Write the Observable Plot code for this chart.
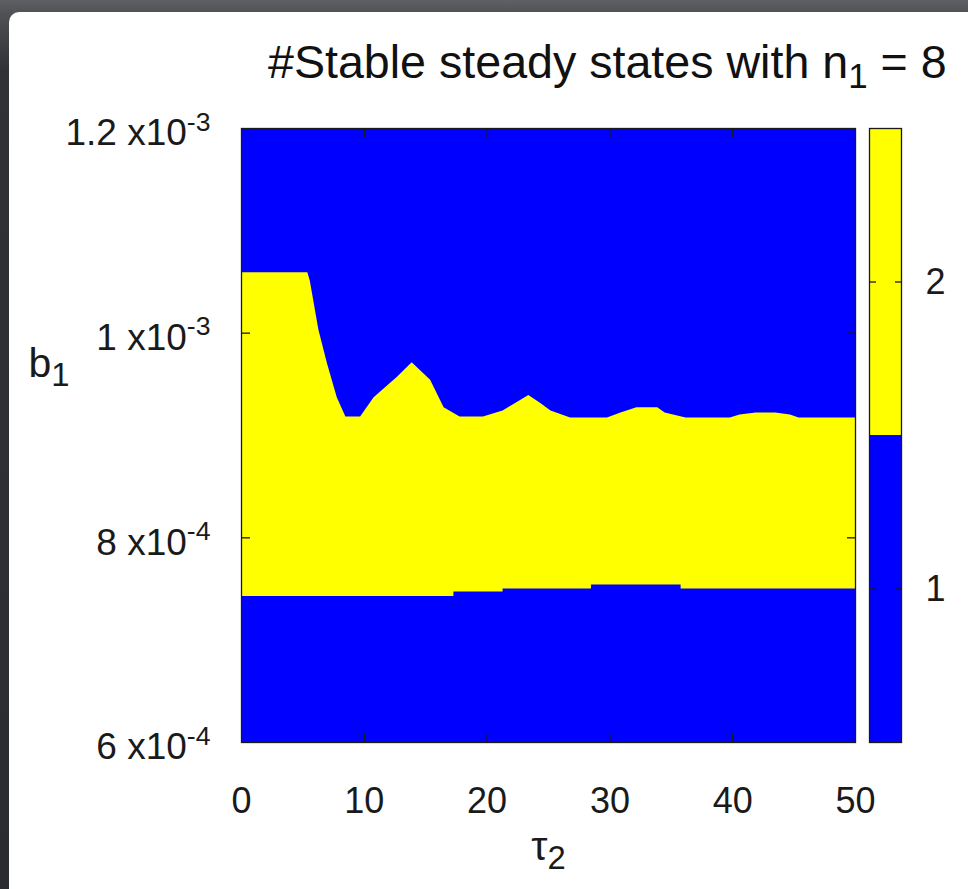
<!DOCTYPE html>
<html>
<head>
<meta charset="utf-8">
<script src="https://cdn.jsdelivr.net/npm/d3@7"></script>
<script src="https://cdn.jsdelivr.net/npm/@observablehq/plot@0.6"></script>
<style>
html,body{margin:0;padding:0;}
body{width:968px;height:889px;overflow:hidden;position:relative;
  background:linear-gradient(180deg,#5f6063 0px,#505154 14px,#303237 70px,#2a2c31 889px);
  font-family:"Liberation Sans",Arial,Helvetica,sans-serif;color:#111;}
#panel{position:absolute;left:9px;top:12px;width:990px;height:900px;background:#fff;border-radius:10px;}
#title{position:absolute;left:268px;top:39px;font-size:46.6px;line-height:46px;white-space:nowrap;color:#111;}
#title sub{font-size:0.75em;vertical-align:-0.3em;line-height:0;}
#main,#cbar{position:absolute;top:0;}
#main{left:0;} #cbar{left:860px;}
svg{overflow:visible;}
</style>
</head>
<body>
<div id="panel"></div>
<div id="title">#Stable steady states with n<sub>1</sub> = 8</div>
<div id="main"></div>
<div id="cbar"></div>
<script>
// ---- data ----
const xTicks = [0, 10, 20, 30, 40, 50];
const xInnerTicks = [10, 20, 30, 40];
const yTicks = [6e-4, 8e-4, 1e-3, 1.2e-3];
const yTickLabels = ["6 x10^-4", "8 x10^-4", "1 x10^-3", "1.2 x10^-3"];
const yInnerTicks = [8e-4, 1e-3];

// upper edge of the 2-state (yellow) region
const upperTau = [0, 5.4, 5.6, 6.3, 7.0, 7.8, 8.5, 9.7, 10.8, 12.7, 13.9, 15.4, 16.5, 17.8, 19.7, 21.3, 23.4, 24.4, 25.2, 26.8, 29.8, 30.9, 32.2, 33.9, 34.5, 36.2, 39.8, 40.6, 41.9, 43.5, 44.7, 45.4, 50];
const upperB = [1.059e-3, 1.059e-3, 1.051e-3, 1.003e-3, 0.970e-3, 0.937e-3, 0.918e-3, 0.918e-3, 0.937e-3, 0.957e-3, 0.971e-3, 0.954e-3, 0.927e-3, 0.918e-3, 0.918e-3, 0.924e-3, 0.939e-3, 0.931e-3, 0.924e-3, 0.917e-3, 0.917e-3, 0.922e-3, 0.927e-3, 0.927e-3, 0.922e-3, 0.917e-3, 0.917e-3, 0.920e-3, 0.922e-3, 0.922e-3, 0.920e-3, 0.917e-3, 0.917e-3];

// lower edge of the 2-state (yellow) region
const lowerTau = [0, 17.3, 21.3, 28.5, 35.8, 50];
const lowerB = [0.7427e-3, 0.747e-3, 0.750e-3, 0.754e-3, 0.750e-3, 0.750e-3];

// colour levels (number of stable steady states)
const levels = [1, 2];
const levelColors = ["#0000ff", "#ffff00"];
const levelDomain = [0.5, 2.5];

const xLabel = "τ2";
const yLabel = "b1";

// ---- build ----
const upper = upperTau.map((t, i) => ({tau: t, b: upperB[i]}));
const lower = lowerTau.map((t, i) => ({tau: t, b: lowerB[i]}));
const labelMap = new Map(yTicks.map((v, i) => [v, yTickLabels[i]]));
const yMin = d3.min(yTicks), yMax = d3.max(yTicks);
const FONT = "Liberation Sans, Arial, Helvetica, sans-serif";
const INK = "#1a1a1a";
const TK = 9;

const main = Plot.plot({
  width: 900, height: 889,
  marginLeft: 241, marginRight: 45, marginTop: 128, marginBottom: 147,
  style: {fontFamily: FONT, fontSize: "36px", color: INK, background: "transparent", overflow: "visible"},
  x: {domain: [0, 50], label: null},
  y: {domain: [yMin, yMax], label: null},
  marks: [
    Plot.frame({fill: levelColors[0]}),
    Plot.areaY(upper, {x: "tau", y1: yMin, y2: "b", fill: levelColors[1]}),
    Plot.areaY(lower, {x: "tau", y1: yMin, y2: "b", fill: levelColors[0], curve: "step-after"}),
    Plot.frame({stroke: INK, strokeWidth: 1.3}),
    // inward ticks (axis ticks shifted into the frame)
    Plot.axisX({ticks: xInnerTicks, anchor: "bottom", tickSize: TK, dy: -TK, tickFormat: () => "", stroke: INK, strokeWidth: 1.3, label: null}),
    Plot.axisX({ticks: xInnerTicks, anchor: "top", tickSize: TK, dy: TK, tickFormat: () => "", stroke: INK, strokeWidth: 1.3, label: null}),
    Plot.axisY({ticks: yInnerTicks, anchor: "left", tickSize: TK, dx: TK, tickFormat: () => "", stroke: INK, strokeWidth: 1.3, label: null}),
    Plot.axisY({ticks: yInnerTicks, anchor: "right", tickSize: TK, dx: -TK, tickFormat: () => "", stroke: INK, strokeWidth: 1.3, label: null}),
    // tick labels
    Plot.axisX({ticks: xTicks, anchor: "bottom", tickSize: 0, tickPadding: 45, fontSize: 36, label: null}),
    Plot.axisY({ticks: yTicks, anchor: "left", tickSize: 0, tickPadding: 31, fontSize: 37, dy: 5,
      tickFormat: d => labelMap.get(d), label: null}),
    Plot.text([xLabel], {text: d => d, frameAnchor: "bottom", dy: 117, fontSize: 41, fill: INK}),
    Plot.text([yLabel], {text: d => d, frameAnchor: "left", dx: -213, dy: -72, fontSize: 41, fill: INK})
  ]
});

const cbar = Plot.plot({
  width: 108, height: 889,
  marginLeft: 9, marginRight: 67, marginTop: 128, marginBottom: 147,
  style: {fontFamily: FONT, fontSize: "36px", color: INK, background: "transparent", overflow: "visible"},
  x: {domain: [0, 1], axis: null},
  y: {domain: levelDomain, label: null},
  color: {type: "ordinal", domain: levels, range: levelColors},
  marks: [
    Plot.rect(levels, {x1: 0, x2: 1, y1: d => d - 0.5, y2: d => d + 0.5, fill: d => d}),
    Plot.frame({stroke: INK, strokeWidth: 1.3}),
    Plot.axisY({ticks: levels, anchor: "left", tickSize: 7, dx: 7, tickFormat: () => "", stroke: INK, strokeWidth: 1.3, label: null}),
    Plot.axisY({ticks: levels, anchor: "right", tickSize: 7, dx: -7, tickFormat: () => "", stroke: INK, strokeWidth: 1.3, label: null}),
    Plot.axisY({ticks: levels, anchor: "right", tickSize: 0, tickPadding: 24, fontSize: 36, tickFormat: "d", label: null})
  ]
});

document.getElementById("main").appendChild(main);
document.getElementById("cbar").appendChild(cbar);

// superscripts / subscripts as real text
d3.select(main).selectAll("text").each(function() {
  const el = d3.select(this);
  const s = el.text();
  if (s.includes("^")) {
    const [base, exp] = s.split("^");
    el.text(null);
    el.append("tspan").text(base);
    el.append("tspan").attr("dy", "-0.55em").attr("font-size", "0.72em").text(exp);
  } else if (s === xLabel || s === yLabel) {
    el.text(null);
    el.append("tspan").text(s.slice(0, -1));
    el.append("tspan").attr("dy", "0.3em").attr("font-size", "0.8em").text(s.slice(-1));
  }
});
</script>
</body>
</html>
